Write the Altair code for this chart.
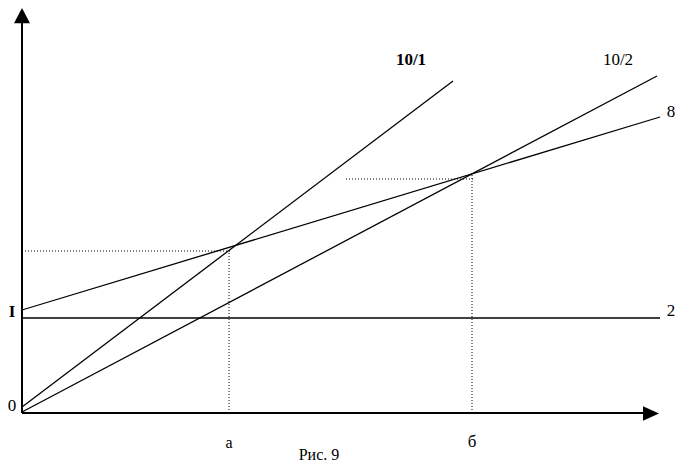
import altair as alt
import pandas as pd

# Diagram units: origin at the axes' crossing, x to the right, y upward
line_names = ["10/1", "10/2", "8", "2"]
line_x0 = [0, 0, 0, 0]
line_y0 = [6, 1, 103, 95]
line_x1 = [431, 635, 638, 638]
line_y1 = [332, 337, 296, 95]

# the two marked points a and б with their levels
point_names = ["a", "б"]
point_x = [207, 450]
level_y = [162, 234]
level_from_x = [0, 324]

axis_x_end = 625
axis_y_end = 390

W, H = 668, 454
xs = alt.Scale(domain=[-14, 654], nice=False, zero=False)
ys = alt.Scale(domain=[-49, 405], nice=False, zero=False)

lines_df = pd.DataFrame({"name": line_names, "x": line_x0, "y": line_y0,
                         "x2": line_x1, "y2": line_y1})

dots_h = pd.DataFrame({"x": level_from_x, "x2": [px + 1 for px in point_x],
                       "y": level_y, "y2": level_y})
dots_v = pd.DataFrame({"x": point_x, "x2": point_x,
                       "y": [0, 0], "y2": [ly + 4 for ly in level_y]})
dots_df = pd.concat([dots_h, dots_v], ignore_index=True)

axes_df = pd.DataFrame({"x": [0, 0], "y": [0, 0],
                        "x2": [0, axis_x_end], "y2": [axis_y_end, 0]})

enc = dict(x=alt.X("x:Q", scale=xs, axis=None),
           y=alt.Y("y:Q", scale=ys, axis=None),
           x2="x2:Q", y2="y2:Q")

lines = alt.Chart(lines_df).mark_rule(color="black", strokeWidth=1.3).encode(**enc)
dots = alt.Chart(dots_df).mark_rule(color="black", strokeWidth=1,
                                    strokeDash=[1, 2]).encode(**enc)
axes = alt.Chart(axes_df).mark_rule(color="black", strokeWidth=2).encode(**enc)

arrow_up = alt.Chart(pd.DataFrame({"x": [0], "y": [397]})).mark_point(
    shape="M0,-1L1,0.9L-1,0.9Z", size=256, filled=True, color="black", opacity=1,
    strokeWidth=0).encode(x=alt.X("x:Q", scale=xs, axis=None),
                          y=alt.Y("y:Q", scale=ys, axis=None))
arrow_right = alt.Chart(pd.DataFrame({"x": [axis_x_end + 4], "y": [-0.5]})).mark_point(
    shape="M1,0L-1,-0.9L-1,0.9Z", size=256, filled=True, color="black", opacity=1,
    strokeWidth=0).encode(x=alt.X("x:Q", scale=xs, axis=None),
                          y=alt.Y("y:Q", scale=ys, axis=None))

# labels
lab_text = ["10/1", "10/2", "8", "2", "I", "0", "a", "б", "Рис. 9"]
lab_x = [389, 596, 649, 649, -10, -10, 207, 450, 297]
lab_y = [353, 353, 301, 102, 101, 7, -30, -29, -42]
lab_bold = [True, False, False, False, True, False, False, False, False]
lab_size = [17, 17, 17, 17, 17, 17, 16, 17, 16]

labels_df = pd.DataFrame({"t": lab_text, "x": lab_x, "y": lab_y,
                          "b": lab_bold, "s": lab_size})


def text_layer(df, weight):
    return alt.Chart(df).mark_text(
        font="Liberation Serif", color="black", align="center",
        baseline="middle", fontWeight=weight
    ).encode(
        x=alt.X("x:Q", scale=xs, axis=None),
        y=alt.Y("y:Q", scale=ys, axis=None),
        text="t:N",
        size=alt.Size("s:Q", scale=None),
    )


labels_bold = text_layer(labels_df[labels_df.b], "bold")
labels_norm = text_layer(labels_df[~labels_df.b], "normal")

chart = alt.layer(axes, dots, lines, arrow_up, arrow_right,
                  labels_bold, labels_norm).properties(
    width=W, height=H, padding=0, autosize=alt.AutoSizeParams(type="none"),
    background="white"
).configure_view(stroke=None)

chart.save("out.html", embed_options={"renderer": "svg", "actions": False})
